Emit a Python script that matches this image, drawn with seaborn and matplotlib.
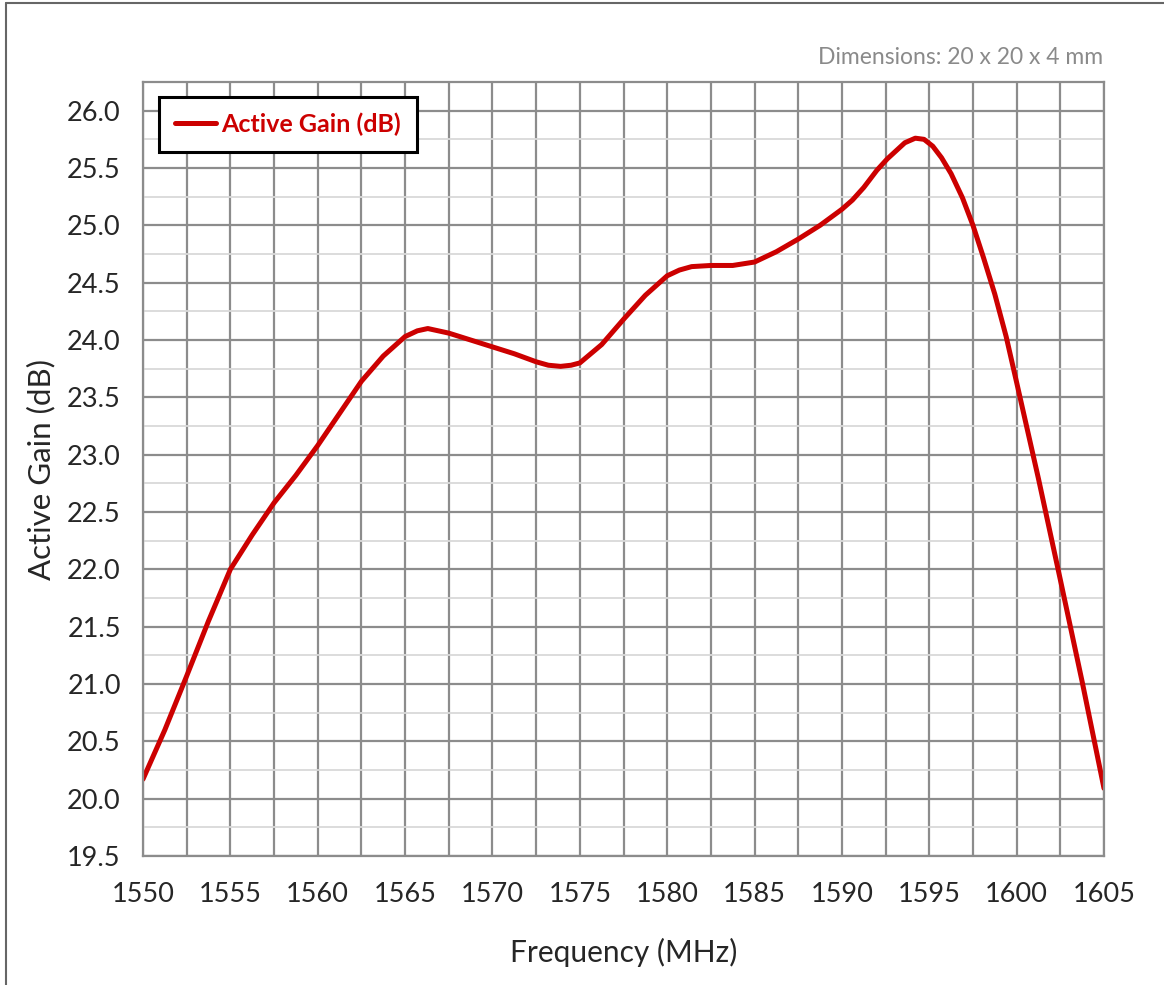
import matplotlib
matplotlib.use("Agg")
import matplotlib.pyplot as plt
import seaborn as sns
import pandas as pd
from matplotlib.lines import Line2D
from matplotlib.ticker import MultipleLocator

sns.set_style("white")
plt.rcParams['font.family'] = ['Lato', 'DejaVu Sans']

# values
freq = [1550.0, 1551.25, 1552.5, 1553.75, 1555.0, 1556.25, 1557.5, 1558.75,
        1560.0, 1561.25, 1562.5, 1563.75, 1565.0, 1565.7, 1566.3, 1566.9,
        1567.5, 1568.75, 1570.0, 1571.25, 1572.5, 1573.2, 1573.9, 1574.5,
        1575.0, 1576.25, 1577.5, 1578.75, 1580.0, 1580.7, 1581.4, 1582.5,
        1583.75, 1585.0, 1586.25, 1587.5, 1588.75, 1590.0, 1590.6, 1591.25,
        1592.0, 1592.6, 1593.1, 1593.6, 1594.2, 1594.7, 1595.2, 1595.7,
        1596.25, 1596.9, 1597.5, 1598.1, 1598.75, 1599.4, 1600.0, 1601.25,
        1602.5, 1603.75, 1605.0]
gain = [20.17, 20.60, 21.07, 21.55, 22.00, 22.30, 22.58, 22.82,
        23.08, 23.36, 23.64, 23.86, 24.03, 24.08, 24.10, 24.08,
        24.06, 24.00, 23.94, 23.88, 23.81, 23.78, 23.77, 23.78,
        23.80, 23.96, 24.18, 24.39, 24.56, 24.61, 24.64, 24.65,
        24.65, 24.68, 24.77, 24.88, 25.00, 25.14, 25.22, 25.33,
        25.48, 25.58, 25.65, 25.72, 25.76, 25.75, 25.69, 25.59,
        25.45, 25.24, 25.00, 24.72, 24.40, 24.03, 23.63, 22.79,
        21.91, 21.02, 20.09]
series_name = "Active Gain (dB)"
df = pd.DataFrame({"Frequency": freq, "Gain": gain})

red = "#CC0000"
grid_dark = "#8c8c8c"
grid_light = "#d9d9d9"

fig = plt.figure(figsize=(11.64, 9.85), dpi=100)
ax = fig.add_axes([143 / 1164, 1 - 856 / 985, 961 / 1164, 774 / 985])

sns.lineplot(data=df, x="Frequency", y="Gain", ax=ax, color=red,
             linewidth=3.6, label=series_name)
for ln in ax.lines:
    ln.set_solid_joinstyle("round")

ax.set_xlim(1550, 1605)
ax.set_ylim(19.5, 26.25)

ax.xaxis.set_major_locator(MultipleLocator(5))
ax.xaxis.set_minor_locator(MultipleLocator(2.5))
ax.yaxis.set_minor_locator(MultipleLocator(0.25))
yt = [v / 2 for v in range(39, 53)]
ax.set_yticks(yt)
ax.set_yticklabels([f"{v:.1f}" for v in yt])

ax.grid(True, which="major", axis="y", color=grid_dark, linewidth=1.6)
ax.grid(True, which="minor", axis="y", color=grid_light, linewidth=1.3)
ax.grid(True, which="both", axis="x", color=grid_dark, linewidth=1.6)
ax.set_axisbelow(True)

ax.tick_params(axis="both", which="major", direction="out", length=11,
               width=1.6, color=grid_dark, labelsize=19.5, pad=5)
ax.tick_params(axis="both", which="minor", length=0)
ax.tick_params(axis="x", which="major", pad=8)

for s in ax.spines.values():
    s.set_color(grid_dark)
    s.set_linewidth(1.6)

ax.set_xlabel("Frequency (MHz)", fontsize=21.5, labelpad=22)
ax.set_ylabel("Active Gain (dB)", fontsize=22.5, labelpad=8)

leg = ax.legend(loc="upper left", bbox_to_anchor=(16 / 961, 1 - 15 / 774),
                frameon=True, fancybox=False, fontsize=18,
                handlelength=1.64, handletextpad=0.24, borderpad=0.62,
                borderaxespad=0)
leg.get_frame().set_edgecolor("black")
leg.get_frame().set_linewidth(2.2)
leg.get_frame().set_alpha(1)
for t in leg.get_texts():
    t.set_color(red)
    t.set_fontweight("bold")

fig.text(1103 / 1164, 1 - 57 / 985, "Dimensions: 20 x 20 x 4 mm",
         ha="right", va="center", fontsize=16.5, color="#8a8a8a")

# outer frame (left and top edges visible)
fig.add_artist(Line2D([6 / 1164, 6 / 1164], [0, 1 - 3 / 985],
                      transform=fig.transFigure, color="#666666", linewidth=1.5))
fig.add_artist(Line2D([6 / 1164, 1], [1 - 3 / 985, 1 - 3 / 985],
                      transform=fig.transFigure, color="#666666", linewidth=1.5))

fig.savefig("out.png", dpi=100)
